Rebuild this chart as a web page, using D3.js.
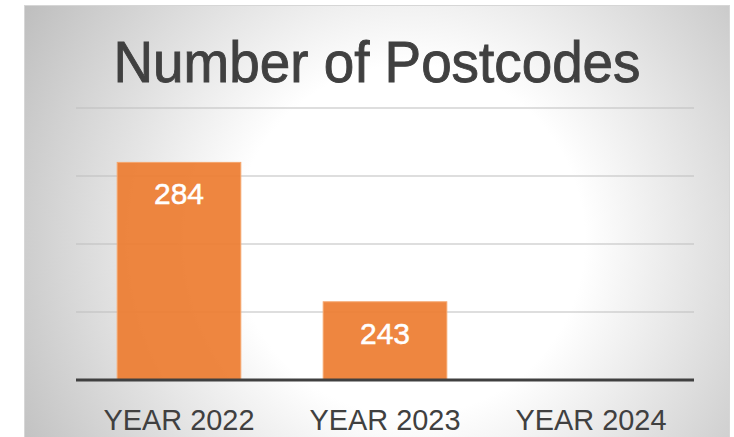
<!DOCTYPE html>
<html><head><meta charset="utf-8">
<script src="https://cdn.jsdelivr.net/npm/d3@7"></script>
<style>html,body{margin:0;padding:0;background:#fff;}svg{display:block;}</style>
</head><body>
<script>
const categories = ["YEAR 2022", "YEAR 2023", "YEAR 2024"];
const values = [284, 243, null];
const yTicks = [220, 240, 260, 280, 300];
const title = "Number of Postcodes";

const W = 734, H = 437;
const svg = d3.select("body").append("svg").attr("width", W).attr("height", H);

const defs = svg.append("defs");
const grad = defs.append("radialGradient").attr("id", "bg")
  .attr("gradientUnits", "userSpaceOnUse")
  .attr("cx", 410).attr("cy", 240).attr("r", 460);
grad.append("stop").attr("offset", 0).attr("stop-color", "#ffffff");
grad.append("stop").attr("offset", 0.38).attr("stop-color", "#ffffff");
grad.append("stop").attr("offset", 1).attr("stop-color", "#bcbcbc");

svg.append("rect").attr("x", 24.5).attr("y", 5.5).attr("width", 705).attr("height", 440)
  .attr("fill", "url(#bg)").attr("stroke", "#d6d6d6").attr("stroke-width", 1);

const plot = {left: 76, right: 694, top: 108, bottom: 380};

const x = d3.scaleBand().domain(categories).range([plot.left, plot.right])
  .paddingInner(0.4).paddingOuter(0.2);
const y = d3.scaleLinear().domain([220, 300]).range([plot.bottom, plot.top]);

// gridlines
svg.append("g").selectAll("line").data(yTicks.filter(t => t > 220)).join("line")
  .attr("x1", plot.left).attr("x2", plot.right)
  .attr("y1", d => y(d)).attr("y2", d => y(d))
  .attr("stroke", "#bdbdbd").attr("stroke-width", 1.2);

// bars
const data = categories.map((c, i) => ({c, v: values[i]})).filter(d => d.v != null);
svg.append("g").selectAll("rect").data(data).join("rect")
  .attr("x", d => x(d.c)).attr("width", x.bandwidth())
  .attr("y", d => y(d.v)).attr("height", d => y(220) - y(d.v))
  .attr("fill", "#ed7d31").attr("fill-opacity", 0.93)
  .attr("stroke", "#f5a56c").attr("stroke-width", 1);

// data labels
svg.append("g").selectAll("text").data(data).join("text")
  .attr("x", d => x(d.c) + x.bandwidth() / 2)
  .attr("y", d => y(d.v) + 42)
  .attr("text-anchor", "middle")
  .attr("font-family", "Liberation Sans, Arial, sans-serif")
  .attr("font-size", 30).attr("fill", "#ffffff")
  .attr("stroke", "#ffffff").attr("stroke-width", 0.5)
  .text(d => d.v);

// axis line
svg.append("line").attr("x1", plot.left).attr("x2", plot.right)
  .attr("y1", plot.bottom).attr("y2", plot.bottom)
  .attr("stroke", "#404040").attr("stroke-width", 3);

// category labels
const xAxis = svg.append("g").attr("transform", `translate(0,${plot.bottom})`)
  .call(d3.axisBottom(x).tickSize(0).tickPadding(0));
xAxis.select(".domain").remove();
xAxis.selectAll("text")
  .attr("dy", 0).attr("y", 50)
  .attr("font-family", "Liberation Sans, Arial, sans-serif")
  .attr("font-size", 29).attr("fill", "#404040")
  .attr("textLength", 151).attr("lengthAdjust", "spacingAndGlyphs");

// title
svg.append("text").attr("x", 377).attr("y", 82)
  .attr("text-anchor", "middle")
  .attr("font-family", "Liberation Sans, Arial, sans-serif")
  .attr("font-size", 58).attr("fill", "#404040")
  .attr("stroke", "#404040").attr("stroke-width", 0.9)
  .attr("textLength", 527).attr("lengthAdjust", "spacingAndGlyphs")
  .text(title);
</script>
</body></html>
